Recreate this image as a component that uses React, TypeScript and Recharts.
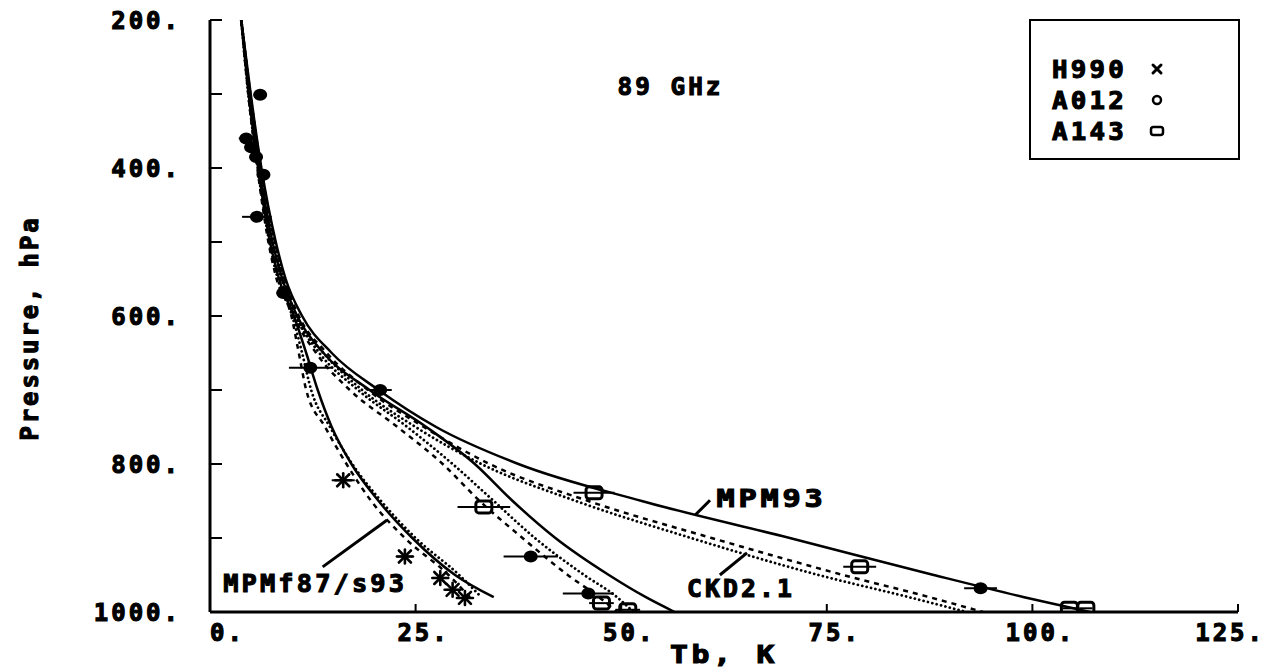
import React from "react";
import {
  ComposedChart,
  Line,
  Scatter,
  ErrorBar,
  XAxis,
  YAxis,
  Legend,
  ReferenceLine,
  ReferenceDot,
} from "recharts";

const FONT = '"DejaVu Sans Mono", monospace';
const INK = "#000";

// pressure levels (hPa) at which each model curve is sampled
const LEVELS = [200, 300, 400, 500, 550, 600, 650, 700, 750, 800, 850, 900, 950, 980, 1000];

// brightness temperature (K) per level; three humidity profiles x three models
const WARM_MPM93 = [3.8, 4.95, 6.25, 8.0, 9.2, 11.2, 14.8, 20.5, 27.5, 37.5, 52.5, 70.5, 88, 99, 107];
const WARM_MPMF87 = [3.8, 4.9, 6.2, 7.9, 9.05, 10.8, 14.2, 19.2, 26, 34, 46, 61, 77, 87.5, 94];
const WARM_CKD = [3.8, 4.9, 6.15, 7.85, 9.0, 10.5, 13.8, 18.5, 25, 33, 44.5, 58.5, 74, 85, 92];

const MID_MPM93 = [3.8, 4.8, 6.0, 7.6, 8.8, 10.6, 13.8, 19.4, 26.3, 32.2, 36.8, 42, 48.5, 53, 56.5];
const MID_MPMF87 = [3.8, 4.75, 5.95, 7.5, 8.6, 10.2, 12.9, 17, 22.8, 28.3, 32.8, 38, 43.5, 47.3, 49.5];
const MID_CKD = [3.8, 4.8, 6.0, 7.55, 8.7, 10.4, 13.3, 18, 24, 29.5, 34.5, 39.5, 45.5, 49.5, 51.5];

const DRY_MPM93 = [3.8, 4.7, 5.85, 7.3, 8.4, 10.2, 11.7, 13.1, 14.8, 17.2, 20.5, 24.6, 29.8, 34.5, null];
const DRY_MPMF87 = [3.8, 4.65, 5.75, 7.1, 8.1, 9.9, 10.8, 11.7, 14, 16.6, 19.6, 23.7, 29, 31.6, null];
const DRY_CKD = [3.8, 4.65, 5.8, 7.2, 8.25, 10.0, 11.2, 12.3, 14.6, 17.3, 20.8, 25, 30.3, 33, null];

// radiometer observations: Tb, pressure, half-width of the error bar
const H990_TB = [16.2, 23.7, 28.0, 29.5, 31.0];
const H990_P = [822, 925, 954, 970, 981];
const H990_ERR = [1.4, 1.0, 1.0, 0.8, 0.8];

const A012_TB = [6.1, 4.4, 5.0, 5.6, 6.5, 5.7, 8.9, 12.2, 20.7, 39.0, 46.0, 93.7];
const A012_P = [301, 360, 372, 385, 409, 466, 569, 670, 700, 925, 975, 968];
const A012_ERR = [0.8, 0.9, 0.8, 0.8, 0.8, 1.8, 0.8, 2.6, 1.4, 3.3, 3.1, 2.0];

const A143_TB = [33.3, 46.7, 79.0, 47.6, 50.8, 104.5, 106.5];
const A143_P = [858, 839, 939, 988, 997, 995, 995];
const A143_ERR = [3.2, 2.5, 2.0, 1.5, 1.5, 0.8, 0.8];

const STATIONS = ["H990", "A012", "A143"];

const X_TICKS = [0, 25, 50, 75, 100, 125];
const Y_TICKS = [200, 300, 400, 500, 600, 700, 800, 900, 1000];

const curve = (tb: (number | null)[]) =>
  LEVELS.map((p, i) => ({ t: tb[i], p })).filter((d) => d.t != null);

const points = (tb: number[], p: number[], err: number[]) =>
  tb.map((t, i) => ({ t, p: p[i], e: err[i] }));

// heavy plotter-style lettering
const textStyle = {
  fontFamily: FONT,
  fontWeight: 700,
  fontSize: 24,
  letterSpacing: 3,
  fill: INK,
  stroke: INK,
  strokeWidth: 1.1,
};

const SOLID = { stroke: INK, strokeWidth: 2.5 };
const DASHED = { stroke: INK, strokeWidth: 2.5, strokeDasharray: "5 5" };
const DOTTED = { stroke: INK, strokeWidth: 2.8, strokeDasharray: "0.01 4.5", strokeLinecap: "round" as const };

const MODEL_CURVES = [
  { key: "warm-mpm93", data: curve(WARM_MPM93), style: SOLID },
  { key: "warm-mpmf87", data: curve(WARM_MPMF87), style: DASHED },
  { key: "warm-ckd", data: curve(WARM_CKD), style: DOTTED },
  { key: "mid-mpm93", data: curve(MID_MPM93), style: SOLID },
  { key: "mid-mpmf87", data: curve(MID_MPMF87), style: DASHED },
  { key: "mid-ckd", data: curve(MID_CKD), style: DOTTED },
  { key: "dry-mpm93", data: curve(DRY_MPM93), style: SOLID },
  { key: "dry-mpmf87", data: curve(DRY_MPMF87), style: DASHED },
  { key: "dry-ckd", data: curve(DRY_CKD), style: DOTTED },
];

function Star({ cx, cy }: any) {
  return (
    <g stroke={INK} strokeWidth={2.6} strokeLinecap="round">
      <line x1={cx - 6} y1={cy - 6} x2={cx + 6} y2={cy + 6} />
      <line x1={cx - 6} y1={cy + 6} x2={cx + 6} y2={cy - 6} />
      <line x1={cx - 8} y1={cy} x2={cx + 8} y2={cy} />
      <line x1={cx} y1={cy - 7} x2={cx} y2={cy + 7} />
    </g>
  );
}

function Blob({ cx, cy }: any) {
  return <ellipse cx={cx} cy={cy} rx={7} ry={6} fill={INK} />;
}

function Box({ cx, cy }: any) {
  return (
    <rect x={cx - 8} y={cy - 6} width={16} height={12} rx={3} fill="none" stroke={INK} strokeWidth={3} />
  );
}

function legendMarker(name: string, cx: number, cy: number) {
  if (name === "H990")
    return (
      <g stroke={INK} strokeWidth={3} strokeLinecap="round">
        <line x1={cx - 4} y1={cy - 4} x2={cx + 4} y2={cy + 4} />
        <line x1={cx - 4} y1={cy + 4} x2={cx + 4} y2={cy - 4} />
      </g>
    );
  if (name === "A012") return <circle cx={cx} cy={cy} r={4} fill="none" stroke={INK} strokeWidth={2.5} />;
  return <rect x={cx - 6} y={cy - 4} width={12} height={8} rx={2.5} fill="none" stroke={INK} strokeWidth={2.5} />;
}

function StationLegend() {
  return (
    <div style={{ width: 207, height: 137, border: `2px solid ${INK}`, background: "#fff" }}>
      <svg width={207} height={137}>
        {STATIONS.map((name, i) => {
          const cy = 48 + i * 31;
          return (
            <g key={name}>
              <text x={21} y={cy + 8.5} textLength={75} lengthAdjust="spacingAndGlyphs" style={textStyle}>
                {name}
              </text>
              {legendMarker(name, 126, cy)}
            </g>
          );
        })}
      </svg>
    </div>
  );
}

function XTick({ x, y, payload }: any) {
  const v = payload.value;
  let anchor: "start" | "middle" | "end" = "middle";
  let dx = 8;
  if (v === 0) {
    anchor = "start";
    dx = 0;
  } else if (v === 125) {
    anchor = "end";
    dx = 27;
  }
  return (
    <text x={x + dx} y={y} dy="0.71em" textAnchor={anchor} style={textStyle}>
      {`${v}.`}
    </text>
  );
}

function YTick({ x, y, payload }: any) {
  const v = payload.value;
  if (v % 200 !== 0) return <g />;
  return (
    <text x={x} y={y} dy="0.355em" textAnchor="end" style={textStyle}>
      {`${v}.`}
    </text>
  );
}

const note = (t: number, p: number, text: string, width: number, anchor: "start" | "middle" = "start") => (
  <ReferenceDot
    key={text}
    x={t}
    y={p}
    r={0}
    fill="none"
    stroke="none"
    label={{
      content: ({ viewBox }: any) => (
        <text
          x={viewBox.x}
          y={viewBox.y}
          textAnchor={anchor}
          textLength={width}
          lengthAdjust="spacingAndGlyphs"
          style={textStyle}
        >
          {text}
        </text>
      ),
    }}
  />
);

const leader = (t1: number, p1: number, t2: number, p2: number) => (
  <ReferenceLine
    key={`${t1}-${p1}`}
    segment={[
      { x: t1, y: p1 },
      { x: t2, y: p2 },
    ]}
    stroke={INK}
    strokeWidth={3}
  />
);

export default function App() {
  return (
    <div style={{ position: "absolute", left: 0, top: 0, width: 1270, height: 670, background: "#fff" }}>
      <ComposedChart width={1270} height={670} margin={{ top: 20, right: 32, bottom: 18, left: 130 }}>
        <XAxis
          type="number"
          dataKey="t"
          domain={[0, 125]}
          ticks={X_TICKS}
          allowDataOverflow
          height={40}
          tickSize={-8}
          tickMargin={20}
          tick={<XTick />}
          axisLine={{ stroke: INK, strokeWidth: 3 }}
          tickLine={{ stroke: INK, strokeWidth: 2 }}
          label={{
            content: ({ viewBox }: any) => (
              <text
                x={viewBox.x + viewBox.width / 2}
                y={663}
                textAnchor="middle"
                textLength={108}
                lengthAdjust="spacingAndGlyphs"
                style={textStyle}
              >
                Tb, K
              </text>
            ),
          }}
        />
        <XAxis
          xAxisId="top"
          orientation="top"
          type="number"
          domain={[0, 125]}
          height={0}
          tick={false}
          tickLine={false}
          axisLine={{ stroke: INK, strokeWidth: 3 }}
        />
        <YAxis
          type="number"
          dataKey="p"
          domain={[200, 1000]}
          reversed
          ticks={Y_TICKS}
          allowDataOverflow
          width={80}
          tickSize={-12}
          tickMargin={41}
          tick={<YTick />}
          axisLine={{ stroke: INK, strokeWidth: 3 }}
          tickLine={{ stroke: INK, strokeWidth: 2 }}
          label={{
            content: () => (
              <text
                x={30}
                y={328}
                transform="rotate(-90 30 328)"
                textAnchor="middle"
                dominantBaseline="central"
                textLength={225}
                lengthAdjust="spacingAndGlyphs"
                style={textStyle}
              >
                Pressure, hPa
              </text>
            ),
          }}
        />
        <YAxis
          yAxisId="right"
          orientation="right"
          type="number"
          domain={[200, 1000]}
          reversed
          ticks={Y_TICKS}
          width={0}
          tickSize={-12}
          tickFormatter={() => ""}
          axisLine={{ stroke: INK, strokeWidth: 3 }}
          tickLine={{ stroke: INK, strokeWidth: 2 }}
        />

        {MODEL_CURVES.map((c) => (
          <Line
            key={c.key}
            data={c.data}
            dataKey="p"
            type="monotone"
            dot={false}
            activeDot={false}
            legendType="none"
            isAnimationActive={false}
            {...c.style}
          />
        ))}

        <Scatter name="H990" data={points(H990_TB, H990_P, H990_ERR)} dataKey="p" shape={<Star />} isAnimationActive={false}>
          <ErrorBar dataKey="e" direction="x" width={0} stroke={INK} strokeWidth={2} />
        </Scatter>
        <Scatter name="A012" data={points(A012_TB, A012_P, A012_ERR)} dataKey="p" shape={<Blob />} isAnimationActive={false}>
          <ErrorBar dataKey="e" direction="x" width={0} stroke={INK} strokeWidth={2} />
        </Scatter>
        <Scatter name="A143" data={points(A143_TB, A143_P, A143_ERR)} dataKey="p" shape={<Box />} isAnimationActive={false}>
          <ErrorBar dataKey="e" direction="x" width={0} stroke={INK} strokeWidth={2} />
        </Scatter>

        {leader(59.0, 869, 60.8, 849)}
        {leader(62.0, 950, 65.3, 920)}
        {leader(13.7, 939, 21.5, 876)}
        {note(56, 301, "89 GHz", 106, "middle")}
        {note(61.6, 858, "MPM93", 110)}
        {note(58.0, 980, "CKD2.1", 108)}
        {note(1.6, 973, "MPMf87/s93", 184)}

        <Legend
          layout="vertical"
          align="center"
          verticalAlign="middle"
          wrapperStyle={{ left: 1029, top: 19 }}
          content={() => <StationLegend />}
        />
      </ComposedChart>
    </div>
  );
}
